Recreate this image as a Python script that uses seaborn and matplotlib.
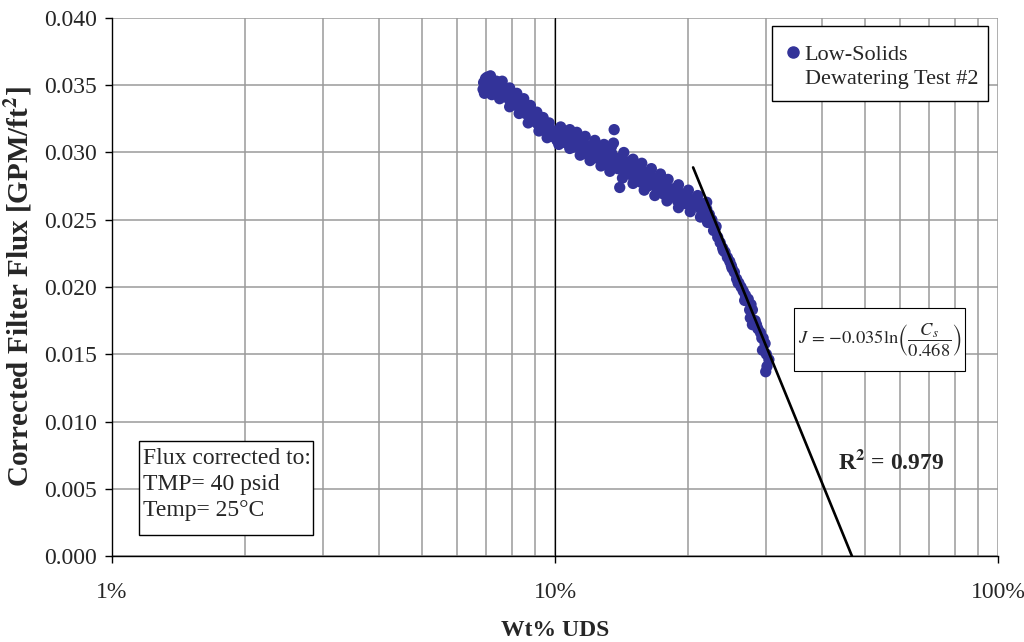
import numpy as np
import pandas as pd
import matplotlib
matplotlib.use("Agg")
import matplotlib.pyplot as plt
from matplotlib.patches import Rectangle
from matplotlib.ticker import PercentFormatter, LogLocator, MultipleLocator, NullFormatter, FormatStrFormatter
import seaborn as sns

# Measured flux vs. weight-percent undissolved solids
wt_pct = [
    6.88, 6.90, 6.93, 6.97, 7.00, 7.03, 7.06, 7.08, 7.12, 7.15, 7.18, 7.22, 7.25, 7.30, 7.34, 7.38, 7.42, 7.46,
    7.50, 7.55, 7.58, 7.62, 7.66, 7.70, 7.74, 7.78, 7.82, 7.86, 7.90, 7.95, 8.00, 8.04, 8.08, 8.13, 8.18, 8.23, 8.28,
    8.34, 8.40, 8.46, 8.52, 8.58, 8.65, 8.72, 8.79, 8.86, 8.93, 9.00, 9.08, 9.15, 9.22, 9.30, 9.38, 9.46, 9.55, 9.63,
    9.72, 9.80, 9.90,
    10.0, 10.1, 10.2, 10.35, 10.5, 10.6, 10.75, 10.9, 11.0, 11.15, 11.3, 11.45, 11.6, 11.75, 11.9, 12.0, 12.2, 12.35,
    12.5, 12.65,
    12.8, 12.95, 13.1, 13.3, 13.45, 13.6, 13.55, 13.7, 13.85, 14.0, 14.0, 14.2, 14.4, 14.6, 14.8, 15.0, 15.2, 15.4,
    15.6, 15.8, 16.0, 16.2, 16.4,
    16.6, 16.8, 17.0, 17.2, 17.4, 17.6, 17.8, 18.0, 18.2, 18.5, 18.7, 18.9, 19.1, 19.4, 19.6, 19.9, 20.2, 20.5, 20.8,
    21.1, 21.4, 21.7, 22.0, 22.3,
    22.6, 22.8, 23.1, 23.3, 23.6, 23.9, 24.2, 24.5, 24.8, 25.1, 25.4, 25.7, 26.0, 26.3, 26.6, 26.9, 27.3, 27.7, 27.9,
    27.6, 27.9, 28.3, 28.7, 29.1, 29.5, 29.8, 29.4, 30.0, 30.4, 30.1, 29.9,
    # upper edge of the band
    7.6, 7.9, 8.2, 8.5, 8.8, 9.1, 9.4, 9.7, 10.3, 10.8, 11.2, 11.7, 12.3, 12.9, 13.4, 14.3, 15.0, 15.7, 16.5, 17.3,
    18.0, 19.0, 20.0, 21.0, 22.0,
    # lower edge of the band
    7.2, 7.5, 7.9, 8.3, 8.7, 9.2, 9.6, 10.2, 10.8, 11.4, 12.0, 12.7, 13.3, 14.2, 15.0, 15.9, 16.8, 17.9, 19.0, 20.2,
    21.3, 22.1,
    # steep section, second pass
    23.0, 24.0, 25.0, 25.9, 26.8, 27.5, 28.5, 29.3,
]
flux = [
    0.0347, 0.0352, 0.0344, 0.0355, 0.0349, 0.0356, 0.0352, 0.0346, 0.0355, 0.0357, 0.0350, 0.0354, 0.0347, 0.0352,
    0.0349, 0.0353, 0.0346, 0.0350,
    0.0348, 0.0344, 0.0350, 0.0346, 0.0343, 0.0348, 0.0344, 0.0341, 0.0346, 0.0342, 0.0339, 0.0344, 0.0340, 0.0337,
    0.0342, 0.0338, 0.0335, 0.0340, 0.0336,
    0.0333, 0.0337, 0.0331, 0.0335, 0.0329, 0.0332, 0.0327, 0.0330, 0.0325, 0.0328, 0.0323, 0.0326, 0.0321, 0.0324,
    0.0319, 0.0322, 0.0317, 0.0321, 0.0314, 0.0318, 0.0312, 0.0316,
    0.0314, 0.0309, 0.0316, 0.0311, 0.0314, 0.0307, 0.0312, 0.0309, 0.0304, 0.0310, 0.0306, 0.0301, 0.0307, 0.0303,
    0.0298, 0.0305, 0.0300, 0.0296, 0.0303, 0.0298,
    0.0294, 0.0301, 0.0296, 0.0291, 0.0299, 0.0317, 0.0307, 0.0293, 0.0288, 0.0274, 0.0296, 0.0290, 0.0285, 0.0293,
    0.0287, 0.0282, 0.0289, 0.0283, 0.0278, 0.0286, 0.0280, 0.0275, 0.0283,
    0.0277, 0.0281, 0.0272, 0.0278, 0.0274, 0.0269, 0.0276, 0.0271, 0.0267, 0.0273, 0.0268, 0.0264, 0.0270, 0.0266,
    0.0262, 0.0268, 0.0264, 0.0260, 0.0265, 0.0261, 0.0257, 0.0262, 0.0258, 0.0254,
    0.0250, 0.0242, 0.0245, 0.0237, 0.0233, 0.0229, 0.0226, 0.0222, 0.0219, 0.0214, 0.0211, 0.0206, 0.0203, 0.0200,
    0.0197, 0.0194, 0.0191, 0.0187, 0.0183, 0.0177, 0.0172, 0.0175, 0.0169, 0.0166, 0.0162, 0.0158, 0.0153, 0.0150,
    0.0146, 0.0141, 0.0137,
    0.0353, 0.0348, 0.0344, 0.0340, 0.0335, 0.0330, 0.0326, 0.0322, 0.0319, 0.0317, 0.0315, 0.0312, 0.0309, 0.0306,
    0.0304, 0.0300, 0.0295, 0.0292, 0.0288, 0.0284, 0.0280, 0.0276, 0.0272, 0.0268, 0.0263,
    0.0343, 0.0340, 0.0334, 0.0329, 0.0322, 0.0316, 0.0311, 0.0306, 0.0303, 0.0298, 0.0294, 0.0290, 0.0286, 0.0281,
    0.0277, 0.0272, 0.0268, 0.0264, 0.0259, 0.0256, 0.0252, 0.0248,
    0.0244, 0.0227, 0.0216, 0.0203, 0.0190, 0.0183, 0.0172, 0.0162,
]

# Logarithmic fit  J = -0.035 ln(Cs / 0.468)
fit_slope = 0.035
fit_c0 = 0.468
fit_cs = [0.205, 0.468]
r_squared = 0.979

series_lines = ["Low-Solids", "Dewatering Test #2"]
conditions = ["Flux corrected to:", "TMP= 40 psid", "Temp= 25\u00b0C"]

df = pd.DataFrame({"cs": np.array(wt_pct) / 100.0, "flux": flux})
fit_df = pd.DataFrame({"cs": fit_cs})
fit_df["flux"] = -fit_slope * np.log(fit_df["cs"] / fit_c0)

sns.set_theme(style="white")
plt.rcParams["font.family"] = ["Liberation Serif", "DejaVu Serif"]
plt.rcParams["mathtext.fontset"] = "stix"

FS = 17
MARK = "#333399"
fig = plt.figure(figsize=(10.24, 6.42), dpi=100)
ax = fig.add_axes([112 / 1024, 86 / 642, 886 / 1024, 538 / 642])

sns.scatterplot(data=df, x="cs", y="flux", ax=ax, color=MARK, s=66,
                edgecolor="none", linewidth=0, zorder=3, legend=False)
sns.lineplot(data=fit_df, x="cs", y="flux", ax=ax, color="black", linewidth=1.9,
             zorder=4, legend=False)

ax.set_xscale("log")
ax.set_xlim(0.01, 1.0)
ax.set_ylim(0.0, 0.040)
ax.xaxis.set_major_locator(LogLocator(base=10))
ax.xaxis.set_minor_locator(LogLocator(base=10, subs=np.arange(2, 10)))
ax.xaxis.set_minor_formatter(NullFormatter())
ax.xaxis.set_major_formatter(PercentFormatter(xmax=1.0, decimals=0))
ax.yaxis.set_major_locator(MultipleLocator(0.005))
ax.yaxis.set_major_formatter(FormatStrFormatter("%.3f"))

ax.grid(True, which="both", axis="x", color="#9a9a9a", linewidth=1.1)
ax.grid(True, which="major", axis="y", color="#9a9a9a", linewidth=1.1)
ax.axvline(0.1, color="black", linewidth=0.9, zorder=2)
ax.set_axisbelow(True)

for side in ["top", "right"]:
    ax.spines[side].set_visible(False)
for side in ["left", "bottom"]:
    ax.spines[side].set_color("black")
    ax.spines[side].set_linewidth(1.0)

ax.tick_params(axis="x", which="major", direction="out", length=5, width=1, color="black",
               labelsize=FS, pad=14)
ax.tick_params(axis="x", which="minor", length=0)
ax.tick_params(axis="y", which="major", direction="out", length=5, width=1, color="black",
               labelsize=FS, pad=6)
ax.tick_params(left=True, bottom=True)

ax.set_xlabel("Wt% UDS", fontsize=FS, fontweight="bold", labelpad=12)
ax.set_ylabel(r"Corrected Filter Flux [GPM/ft$^\mathbf{2}$]", fontsize=21, fontweight="bold")
ax.yaxis.set_label_coords(-0.0875, 0.5)

# Legend: marker beside the first line of a two-line label
ax.add_patch(Rectangle((0.7449, 0.8457), 0.2438, 0.1394, transform=ax.transAxes,
                       facecolor="white", edgecolor="black", linewidth=1.0, zorder=5))
leg = ax.legend(handles=[plt.Line2D([], [], marker="o", color=MARK, linestyle="none", markersize=8),
                         plt.Line2D([], [], linestyle="none")],
                labels=series_lines, loc="center left", bbox_to_anchor=(0.7607, 0.910),
                fontsize=16, frameon=False, handletextpad=0.24, borderpad=0.0,
                handlelength=0.6, borderaxespad=0.0, labelspacing=0.14)
leg.set_zorder(6)

# Equation box
ax.add_patch(Rectangle((0.7698, 0.3439), 0.1930, 0.1171, transform=ax.transAxes,
                       facecolor="white", edgecolor="black", linewidth=0.8, zorder=5))
ax.text(0.8668, 0.401, r"$J\,{=}\,{-}0.035\ln\!\left(\dfrac{C_s}{0.468}\right)$", transform=ax.transAxes,
        fontsize=13.3, ha="center", va="center", zorder=6)

# R-squared
ax.text(0.819, 0.175, f"R$^\\mathbf{{2}}$ = {r_squared:.3f}", transform=ax.transAxes,
        fontsize=FS, fontweight="bold", ha="left", va="center")

# Conditions box
ax.add_patch(Rectangle((0.0305, 0.039), 0.1964, 0.1749, transform=ax.transAxes,
                       facecolor="white", edgecolor="black", linewidth=1.0, zorder=5))
ax.text(0.035, 0.133, "\n".join(conditions), transform=ax.transAxes,
        fontsize=FS, ha="left", va="center", linespacing=1.32, zorder=6)

fig.savefig("out.png", dpi=100)
